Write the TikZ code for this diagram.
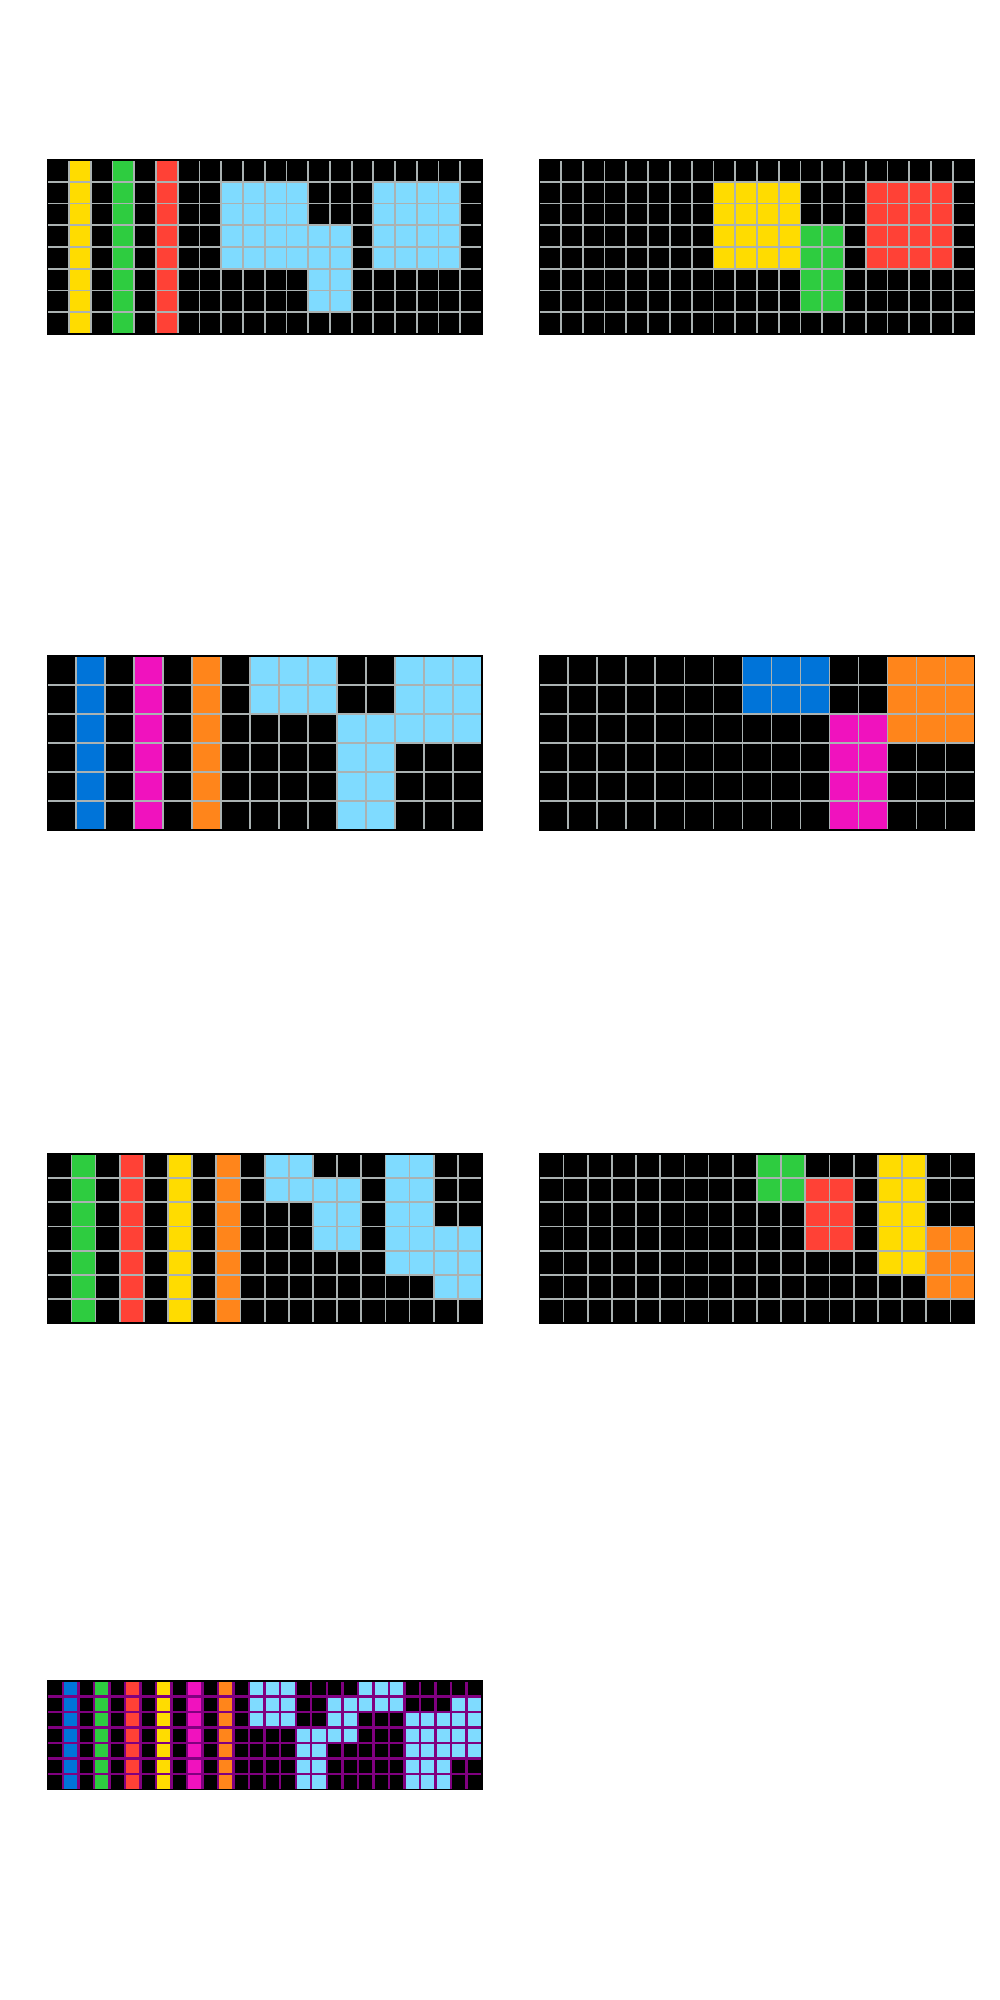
\documentclass[tikz,border=0pt]{standalone}
\usepackage{xcolor}
\definecolor{arcblue}{HTML}{0074D9}
\definecolor{arcred}{HTML}{FF4136}
\definecolor{arcgreen}{HTML}{2ECC40}
\definecolor{arcyellow}{HTML}{FFDC00}
\definecolor{arcmagenta}{HTML}{F012BE}
\definecolor{arcorange}{HTML}{FF851B}
\definecolor{arccyan}{HTML}{7FDBFF}
\definecolor{arcgridgray}{RGB}{170,178,178}
\definecolor{arcpurple}{HTML}{800080}
\tikzset{
  gridline/.style={draw=arcgridgray, line width=0.5pt},
  purpleline/.style={draw=arcpurple, line width=0.7pt},
  gridframe/.style={draw=black, line width=0.4pt},
}

\begin{document}
\begin{tikzpicture}[x=0.01cm, y=-0.01cm]
  \useasboundingbox[fill=white] (0,0) rectangle (1000,2000);

  %--- Pair 1: input ---
  \begin{scope}[shift={(47.3,160)}, x=0.21725cm, y=-0.21725cm]
    \fill[black] (0,0) rectangle (20,8);
    \fill[arcyellow] (1,0) rectangle (2,8);
    \fill[arcgreen] (3,0) rectangle (4,8);
    \fill[arcred] (5,0) rectangle (6,8);
    \fill[arccyan] (8,1) rectangle (12,5);
    \fill[arccyan] (12,3) rectangle (14,7);
    \fill[arccyan] (15,1) rectangle (19,5);
    \foreach \i in {1,...,19} \draw[gridline] (\i,0) -- (\i,8);
    \foreach \j in {1,...,7} \draw[gridline] (0,\j) -- (20,\j);
    \draw[gridframe] (0,0) rectangle (20,8);
  \end{scope}

  %--- Pair 1: output ---
  \begin{scope}[shift={(539.3,160)}, x=0.21750cm, y=-0.21725cm]
    \fill[black] (0,0) rectangle (20,8);
    \fill[arcyellow] (8,1) rectangle (12,5);
    \fill[arcgreen] (12,3) rectangle (14,7);
    \fill[arcred] (15,1) rectangle (19,5);
    \foreach \i in {1,...,19} \draw[gridline] (\i,0) -- (\i,8);
    \foreach \j in {1,...,7} \draw[gridline] (0,\j) -- (20,\j);
    \draw[gridframe] (0,0) rectangle (20,8);
  \end{scope}

  %--- Pair 2: input ---
  \begin{scope}[shift={(47.3,656)}, x=0.28967cm, y=-0.28967cm]
    \fill[black] (0,0) rectangle (15,6);
    \fill[arcblue] (1,0) rectangle (2,6);
    \fill[arcmagenta] (3,0) rectangle (4,6);
    \fill[arcorange] (5,0) rectangle (6,6);
    \fill[arccyan] (7,0) rectangle (10,2);
    \fill[arccyan] (10,2) rectangle (12,6);
    \fill[arccyan] (12,0) rectangle (15,3);
    \foreach \i in {1,...,14} \draw[gridline] (\i,0) -- (\i,6);
    \foreach \j in {1,...,5} \draw[gridline] (0,\j) -- (15,\j);
    \draw[gridframe] (0,0) rectangle (15,6);
  \end{scope}

  %--- Pair 2: output ---
  \begin{scope}[shift={(539.3,656)}, x=0.29000cm, y=-0.28967cm]
    \fill[black] (0,0) rectangle (15,6);
    \fill[arcblue] (7,0) rectangle (10,2);
    \fill[arcmagenta] (10,2) rectangle (12,6);
    \fill[arcorange] (12,0) rectangle (15,3);
    \foreach \i in {1,...,14} \draw[gridline] (\i,0) -- (\i,6);
    \foreach \j in {1,...,5} \draw[gridline] (0,\j) -- (15,\j);
    \draw[gridframe] (0,0) rectangle (15,6);
  \end{scope}

  %--- Pair 3: input ---
  \begin{scope}[shift={(47.3,1154)}, x=0.24139cm, y=-0.24139cm]
    \fill[black] (0,0) rectangle (18,7);
    \fill[arcgreen] (1,0) rectangle (2,7);
    \fill[arcred] (3,0) rectangle (4,7);
    \fill[arcyellow] (5,0) rectangle (6,7);
    \fill[arcorange] (7,0) rectangle (8,7);
    \fill[arccyan] (9,0) rectangle (11,2);
    \fill[arccyan] (11,1) rectangle (13,4);
    \fill[arccyan] (14,0) rectangle (16,5);
    \fill[arccyan] (16,3) rectangle (18,6);
    \foreach \i in {1,...,17} \draw[gridline] (\i,0) -- (\i,7);
    \foreach \j in {1,...,6} \draw[gridline] (0,\j) -- (18,\j);
    \draw[gridframe] (0,0) rectangle (18,7);
  \end{scope}

  %--- Pair 3: output ---
  \begin{scope}[shift={(539.3,1154)}, x=0.24167cm, y=-0.24139cm]
    \fill[black] (0,0) rectangle (18,7);
    \fill[arcgreen] (9,0) rectangle (11,2);
    \fill[arcred] (11,1) rectangle (13,4);
    \fill[arcyellow] (14,0) rectangle (16,5);
    \fill[arcorange] (16,3) rectangle (18,6);
    \foreach \i in {1,...,17} \draw[gridline] (\i,0) -- (\i,7);
    \foreach \j in {1,...,6} \draw[gridline] (0,\j) -- (18,\j);
    \draw[gridframe] (0,0) rectangle (18,7);
  \end{scope}

  %--- Test input ---
  \begin{scope}[shift={(47.3,1681)}, x=0.15518cm, y=-0.15518cm]
    \fill[black] (0,0) rectangle (28,7);
    \fill[arcblue] (1,0) rectangle (2,7);
    \fill[arcgreen] (3,0) rectangle (4,7);
    \fill[arcred] (5,0) rectangle (6,7);
    \fill[arcyellow] (7,0) rectangle (8,7);
    \fill[arcmagenta] (9,0) rectangle (10,7);
    \fill[arcorange] (11,0) rectangle (12,7);
    \fill[arccyan] (13,0) rectangle (16,3);
    \fill[arccyan] (16,3) rectangle (18,7);
    \fill[arccyan] (18,1) rectangle (20,4);
    \fill[arccyan] (20,0) rectangle (23,2);
    \fill[arccyan] (23,2) rectangle (26,7);
    \fill[arccyan] (26,1) rectangle (28,5);
    \foreach \i in {1,...,27} \draw[purpleline] (\i,0) -- (\i,7);
    \foreach \j in {1,...,6} \draw[purpleline] (0,\j) -- (28,\j);
    \draw[gridframe] (0,0) rectangle (28,7);
  \end{scope}
\end{tikzpicture}
\end{document}
